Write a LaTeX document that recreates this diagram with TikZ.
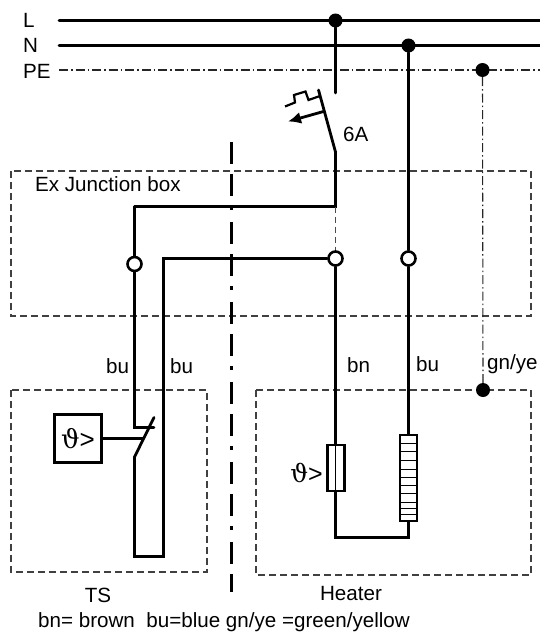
\documentclass[tikz,border=0pt]{standalone}
\usepackage{fontspec}
\setmainfont{Liberation Sans}
\newfontfamily\symbfont{DejaVu Serif}
\usetikzlibrary{arrows.meta}
\tikzset{
  wire/.style={line width=2.8pt,line cap=round,line join=miter},
  thinwire/.style={line width=1.2pt},
  pewire/.style={line width=1.1pt,dash pattern=on 9pt off 3pt on 1.5pt off 3pt,black!85},
  boxline/.style={line width=1.1pt,dash pattern=on 7pt off 4pt,black!75},
  dot/.style={circle,fill=black,inner sep=0pt,minimum size=14pt},
  opendot/.style={circle,draw,fill=white,line width=2.6pt,inner sep=0pt,minimum size=14pt},
  label/.style={inner sep=0pt,font=\fontsize{20.6}{23}\selectfont},
  temp/.style={inner sep=0pt,font=\fontsize{25}{27}\selectfont}
}
\begin{document}
\begin{tikzpicture}[x=1pt,y=-1pt]
\useasboundingbox (0,0) rectangle (540,634);
% boxes
\draw [boxline] (11,171) rectangle (531,316);
\draw [boxline] (11,390) rectangle (207,572);
\draw [boxline] (256,390) rectangle (531,575);
% centre line
\coordinate (ctop) at (231.5,142);
\coordinate (cbot) at (231.5,592);
\draw [line width=3pt,dash pattern=on 22pt off 10pt on 22pt off 10pt on 4pt off 12pt] (ctop) -- (cbot);
% mains
\coordinate (Lstart) at (59,20.5);
\coordinate (Lend) at (540,20.5);
\coordinate (Nstart) at (59,45.5);
\coordinate (Nend) at (540,45.5);
\coordinate (PEstart) at (59,70);
\coordinate (PEend) at (540,70);
\draw [wire] (Lstart) -- (Lend);
\draw [wire] (Nstart) -- (Nend);
\draw [pewire] (PEstart) -- (PEend);
\node [dot] (dotL) at (335.5,20.5) {};
\node [dot] (dotN) at (408.5,45.5) {};
\node [dot] (dotPE) at (482.5,70) {};
\node [dot] (dotbox) at (483,390) {};
\draw [pewire] (dotPE) -- (dotbox);
\node [label,anchor=west] at (23,20) {L};
\node [label,anchor=west] at (23,45) {N};
\node [label,anchor=west] at (23,71) {PE};
% breaker
\coordinate (brktop) at (335.5,93);
\coordinate (blade) at (318.5,90);
\coordinate (hinge) at (335.5,152);
\coordinate (arrstart) at (323.5,111.5);
\coordinate (arrend) at (288,121.5);
\coordinate (jboxr) at (335.5,206.5);
\coordinate (jboxl) at (134.5,206.5);
\draw [wire] (dotL) -- (brktop);
\draw [wire] (blade) -- (hinge) -- (jboxr) -- (jboxl);
\draw [line width=2.2pt] (285,106.5) -- (295,102.5) -- (294,95) -- (305.5,91.5) -- (308.5,100) -- (320,96);
\draw [wire,-{Latex[length=13pt,width=12pt]}] (arrstart) -- (arrend);
\node [label,anchor=west] at (343,134) {6A};
\node [label,anchor=west] at (35,184) {Ex Junction box};
% junctions
\node [opendot] (tsin) at (134.5,264) {};
\node [opendot] (htrin) at (335.5,258.5) {};
\node [opendot] (htrret) at (408.5,258.5) {};
\draw [thinwire,dash pattern=on 6pt off 4pt,black!70] (jboxr) -- (htrin);
\draw [wire] (jboxl) -- (tsin);
\draw [wire] (dotN) -- (htrret);
% TS
\coordinate (ctc) at (134.5,427.5);
\coordinate (ctcr) at (154,427.5);
\coordinate (bladeb) at (134.5,457);
\coordinate (bladet) at (154,417.5);
\coordinate (tsbl) at (134.5,556.5);
\coordinate (tsbr) at (163.5,556.5);
\coordinate (tstr) at (163.5,258.5);
\draw [wire] (tsin) -- (ctc) -- (ctcr);
\draw [wire] (bladet) -- (bladeb) -- (tsbl) -- (tsbr) -- (tstr) -- (htrin);
\node [draw,line width=2.2pt,minimum width=47pt,minimum height=48pt,inner sep=0pt,font=\fontsize{26}{28}\selectfont] (sensor) at (78,438.5) {{\symbfont ϑ}>};
\coordinate (act) at (143,438.5);
\draw [line width=2.2pt] (sensor) -- (act);
\node [label,anchor=west] at (106,366) {bu};
\node [label,anchor=west] at (170,366) {bu};
\node [label] at (98,595) {TS};
% heater
\coordinate (limtop) at (335.5,445);
\coordinate (limbot) at (335.5,491);
\node [draw,line width=2.2pt,minimum width=17pt,minimum height=46pt,inner sep=0pt] (limiter) at (336,468) {};
\node [draw,line width=2.4pt,minimum width=17pt,minimum height=86pt,inner sep=0pt] (element) at (408.5,478) {};
\foreach \y in {443,451,460,469,477,485,493,502,508,514} {
  \draw [line width=0.9pt] (400,\y) -- (417,\y);
}
\coordinate (hbl) at (335.5,537.5);
\coordinate (hbr) at (408.5,537.5);
\draw [wire] (htrin) -- (limtop);
\draw [thinwire] (limtop) -- (limbot);
\draw [wire] (limbot) -- (hbl) -- (hbr) -- (element.south);
\draw [wire] (htrret) -- (element.north);
\node [temp,anchor=east] at (323,473) {{\symbfont ϑ}>};
\node [label,anchor=west] at (347,365) {bn};
\node [label,anchor=west] at (416,364) {bu};
\node [label,anchor=west] at (487,364) {gn/ye};
\node [label] at (351,594) {Heater};
\node [label,anchor=west] at (38,622) {bn= brown\ \ bu=blue gn/ye =green/yellow};
\end{tikzpicture}
\end{document}
